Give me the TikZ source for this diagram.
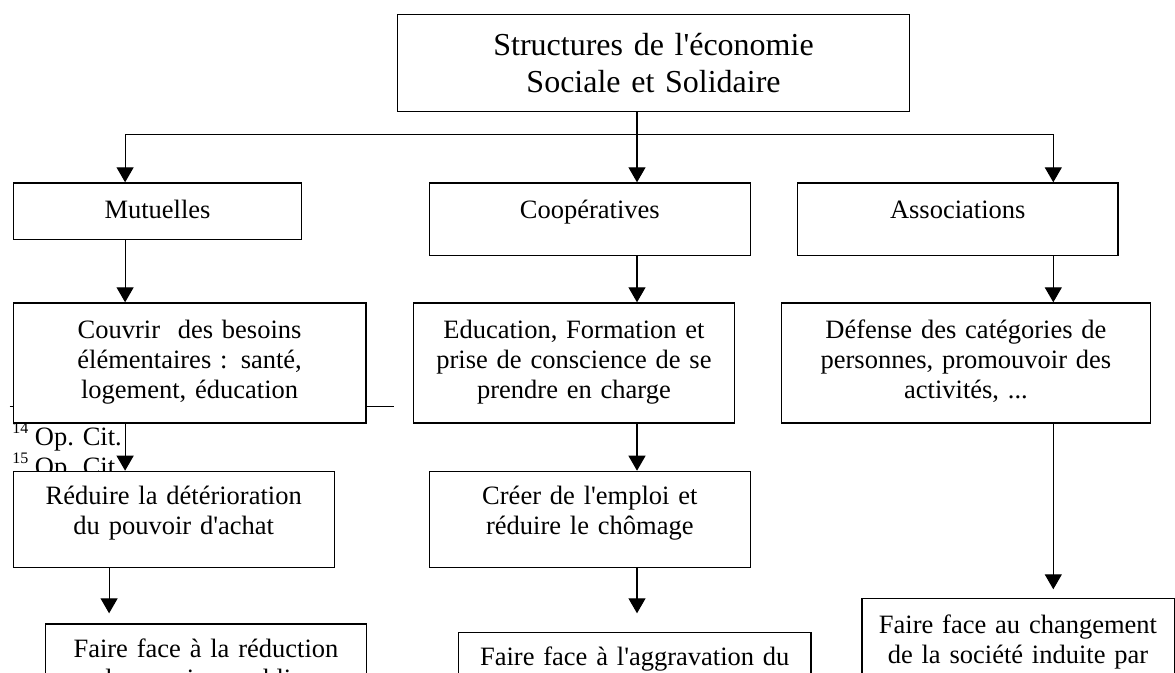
\documentclass[tikz,border=0pt]{standalone}
\usepackage{fontspec}
\setmainfont{Liberation Serif}[Ligatures=TeXOff]
\usetikzlibrary{arrows.meta}
\begin{document}
\begin{tikzpicture}[x=1pt,y=-1pt,line width=1.2pt,>={Triangle[length=15pt,width=17pt]},
  boite/.style={draw,fill=white,inner sep=0pt,align=center,anchor=north west,font=\fontsize{26.5}{30}\selectfont}]
 \useasboundingbox (0,0) rectangle (1175,672);
 \clip (0,0) rectangle (1175,672);
 \draw[line width=1pt] (9.6,406)--(394.2,406); %trait de note
 \node[anchor=base west,inner sep=0pt,font=\fontsize{26.5}{30}\selectfont] (fn14) at (11.7,445) {{\fontsize{16}{16}\selectfont\raisebox{11.5pt}{14}}\ Op. Cit.}; %note 14
 \node[anchor=base west,inner sep=0pt,font=\fontsize{26.5}{30}\selectfont] (fn15) at (11.7,475) {{\fontsize{16}{16}\selectfont\raisebox{11.5pt}{15}}\ Op. Cit.}; %note 15
 \node[boite,text width=512.3pt,text height=41pt,text depth=55.5pt,font=\fontsize{32}{36.7}\selectfont] (titl) at (396.8,14) {Structures de l'économie\\Sociale et Solidaire}; %titre
 \node[boite,text width=288.6pt,text height=36pt,text depth=20.4pt] (mutu) at (12.6,182.3) {Mutuelles};
 \node[boite,text width=320.5pt,text height=36pt,text depth=36.7pt] (coop) at (429,182.3) {Coopératives};
 \node[boite,text width=320.3pt,text height=36pt,text depth=36.7pt] (asso) at (797,182.3) {Associations};
 \node[boite,text width=352.8pt,text height=36pt,text depth=84pt] (couv) at (12.6,302.3) {Couvrir\ \ des besoins\\élémentaires : santé,\\logement, éducation};
 \node[boite,text width=320.9pt,text height=36pt,text depth=84pt] (educ) at (412.9,302.3) {Education, Formation et\\prise de conscience de se\\prendre en charge};
 \node[boite,text width=368.9pt,text height=36pt,text depth=84pt] (defe) at (780.9,302.3) {Défense des catégories de\\personnes, promouvoir des\\activités, ...};
 \node[boite,text width=321.1pt,text height=32.8pt,text depth=63.2pt] (redu) at (12.6,470.7) {Réduire la détérioration\\du pouvoir d'achat};
 \node[boite,text width=320.5pt,text height=32.8pt,text depth=63.2pt] (crea) at (429,470.7) {Créer de l'emploi et\\réduire le chômage};
 \node[boite,text width=320.3pt,text height=33.4pt,text depth=150pt] (fred) at (45.2,623.3) {Faire face à la réduction\\des services publics};
 \node[boite,text width=352.3pt,text height=33.3pt,text depth=150pt] (fagg) at (458,631.7) {Faire face à l'aggravation du};
 \node[boite,text width=312.2pt,text height=35.6pt,text depth=150pt] (fchg) at (861.3,597.7) {Faire face au changement\\de la société induite par};
 \coordinate (rep) at (637,134.3); %point de repartition
 \draw[->] (titl.south -| rep) -- (rep) -| (mutu.north -| 125.1,0);
 \draw[->] (rep) -- (coop.north -| rep);
 \draw[->] (rep) -| (asso.north -| 1053.3,0);
 \draw[->] (mutu.south -| 125.1,0) -- (couv.north -| 125.1,0);
 \draw[->] (coop.south -| rep) -- (educ.north -| rep);
 \draw[->] (asso.south -| 1053.3,0) -- (defe.north -| 1053.3,0);
 \draw[->] (couv.south -| 125.1,0) -- (redu.north -| 125.1,0);
 \draw[->] (educ.south -| rep) -- (crea.north -| rep);
 \draw[->] (defe.south -| 1053.3,0) -- ([yshift=8.4pt]fchg.north -| 1053.3,0);
 \draw[->] (redu.south -| 109.1,0) -- ([yshift=10pt]fred.north -| 109.1,0);
 \draw[->] (crea.south -| rep) -- ([yshift=18.4pt]fagg.north -| rep);
\end{tikzpicture}
\end{document}
